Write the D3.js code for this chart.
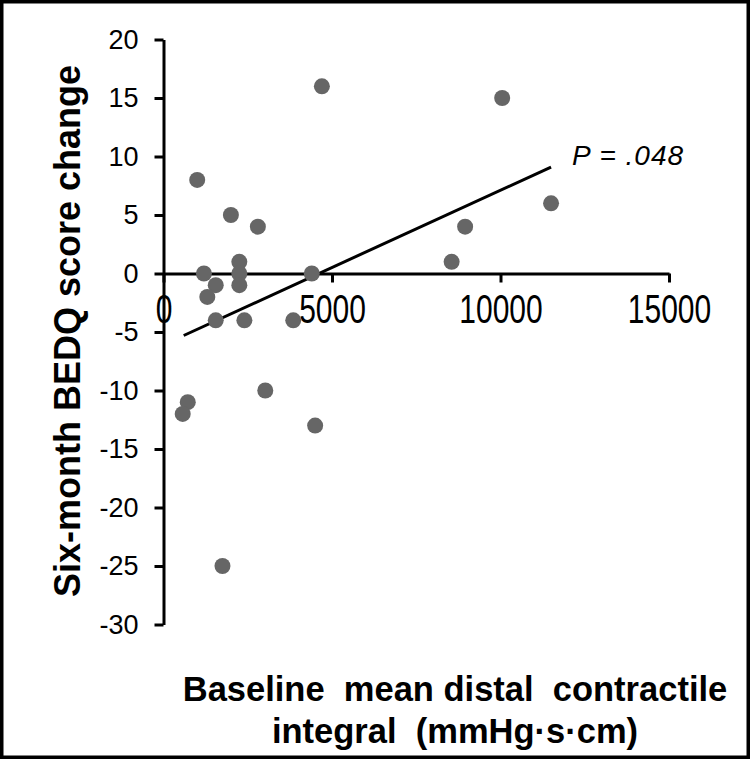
<!DOCTYPE html>
<html lang="en">
<head>
  <meta charset="UTF-8" />
  <title>BEDQ change vs DCI</title>
  <script src="https://d3js.org/d3.v7.min.js"></script>
  <style>
    body {
      margin: 0;
      padding: 0;
      background: #fff;
    }
    svg text {
      font-family: Arial, "Liberation Sans", sans-serif;
      fill: #000;
    }
    .title {
      font-weight: bold;
      white-space: pre;
    }
  </style>
</head>
<body>
  <div id="chart"></div>

  <script>
    // baseline mean DCI (mmHg·s·cm) and six-month BEDQ change
    const dciValues = [4700, 10050, 1000, 2000, 2800, 2250, 1200, 2250, 2250, 1550, 1300,
                       4400, 1550, 2400, 3850, 720, 570, 3020, 4500, 1750, 11500, 8950, 8550];
    const bedqChange = [16, 15, 8, 5, 4, 1, 0, 0, -1, -1, -2,
                        0, -4, -4, -4, -11, -12, -10, -13, -25, 6, 4, 1];

    // fitted line end points
    const trendX = [600, 11500];
    const trendY = [-5.3, 9.1];

    const xTicks = [0, 5000, 10000, 15000];
    const yTicks = [20, 15, 10, 5, 0, -5, -10, -15, -20, -25, -30];

    const width = 750;
    const height = 759;

    const svg = d3.select("#chart")
      .append("svg")
      .attr("width", width)
      .attr("height", height);

    // outer frame
    svg.append("rect")
      .attr("x", 1.75)
      .attr("y", 1.75)
      .attr("width", width - 3.5)
      .attr("height", height - 3.5)
      .attr("fill", "none")
      .attr("stroke", "#000")
      .attr("stroke-width", 3.5);

    const x = d3.scaleLinear().domain([0, 15000]).range([163.5, 669]);
    const y = d3.scaleLinear().domain([-30, 20]).range([624.5, 39.5]);

    // y axis (ticks to the left), plain hyphen for negatives like the original
    const yAxis = svg.append("g")
      .attr("transform", `translate(${x(0)},0)`)
      .call(d3.axisLeft(y).tickValues(yTicks).tickSize(9).tickPadding(16).tickSizeOuter(0)
        .tickFormat(d => String(d)));

    yAxis.select(".domain").attr("stroke-width", 3).attr("stroke", "#000");
    yAxis.selectAll(".tick line").attr("stroke-width", 3).attr("stroke", "#000");
    yAxis.selectAll(".tick text")
      .attr("font-size", 27)
      .attr("font-family", "Arial, 'Liberation Sans', sans-serif");

    // x axis sits at y = 0, ticks point down
    const xAxis = svg.append("g")
      .attr("transform", `translate(0,${y(0)})`)
      .call(d3.axisBottom(x).tickValues(xTicks).tickSize(9).tickSizeOuter(0).tickFormat(d => String(d)));

    xAxis.select(".domain").attr("stroke-width", 3).attr("stroke", "#000");
    xAxis.selectAll(".tick line").attr("stroke-width", 3).attr("stroke", "#000");
    // the x labels in the figure are drawn taller than they are wide
    xAxis.selectAll(".tick text")
      .attr("font-size", 30)
      .attr("font-family", "Arial, 'Liberation Sans', sans-serif")
      .attr("y", 0)
      .attr("dy", 0)
      .attr("transform", "translate(0,49) scale(1,1.35)");

    // fitted line
    svg.append("line")
      .attr("x1", x(trendX[0]))
      .attr("y1", y(trendY[0]))
      .attr("x2", x(trendX[1]))
      .attr("y2", y(trendY[1]))
      .attr("stroke", "#000")
      .attr("stroke-width", 3);

    // points
    svg.append("g")
      .selectAll("circle")
      .data(dciValues.map((d, i) => [d, bedqChange[i]]))
      .enter()
      .append("circle")
      .attr("cx", d => x(d[0]))
      .attr("cy", d => y(d[1]))
      .attr("r", 8)
      .attr("fill", "#666666");

    svg.append("text")
      .attr("x", 572)
      .attr("y", 165)
      .attr("font-size", 28)
      .attr("font-style", "italic")
      .attr("letter-spacing", 1)
      .text("P = .048");

    // axis titles
    svg.append("text")
      .attr("class", "title")
      .attr("transform", "translate(80,331) rotate(-90)")
      .attr("text-anchor", "middle")
      .attr("font-size", 36)
      .text("Six-month BEDQ score change");

    svg.append("text")
      .attr("class", "title")
      .attr("x", 455)
      .attr("y", 701)
      .attr("text-anchor", "middle")
      .attr("font-size", 34.5)
      .text("Baseline  mean distal  contractile");

    svg.append("text")
      .attr("class", "title")
      .attr("x", 455)
      .attr("y", 743)
      .attr("text-anchor", "middle")
      .attr("font-size", 34.5)
      .text("integral  (mmHg·s·cm)");
  </script>
</body>
</html>
